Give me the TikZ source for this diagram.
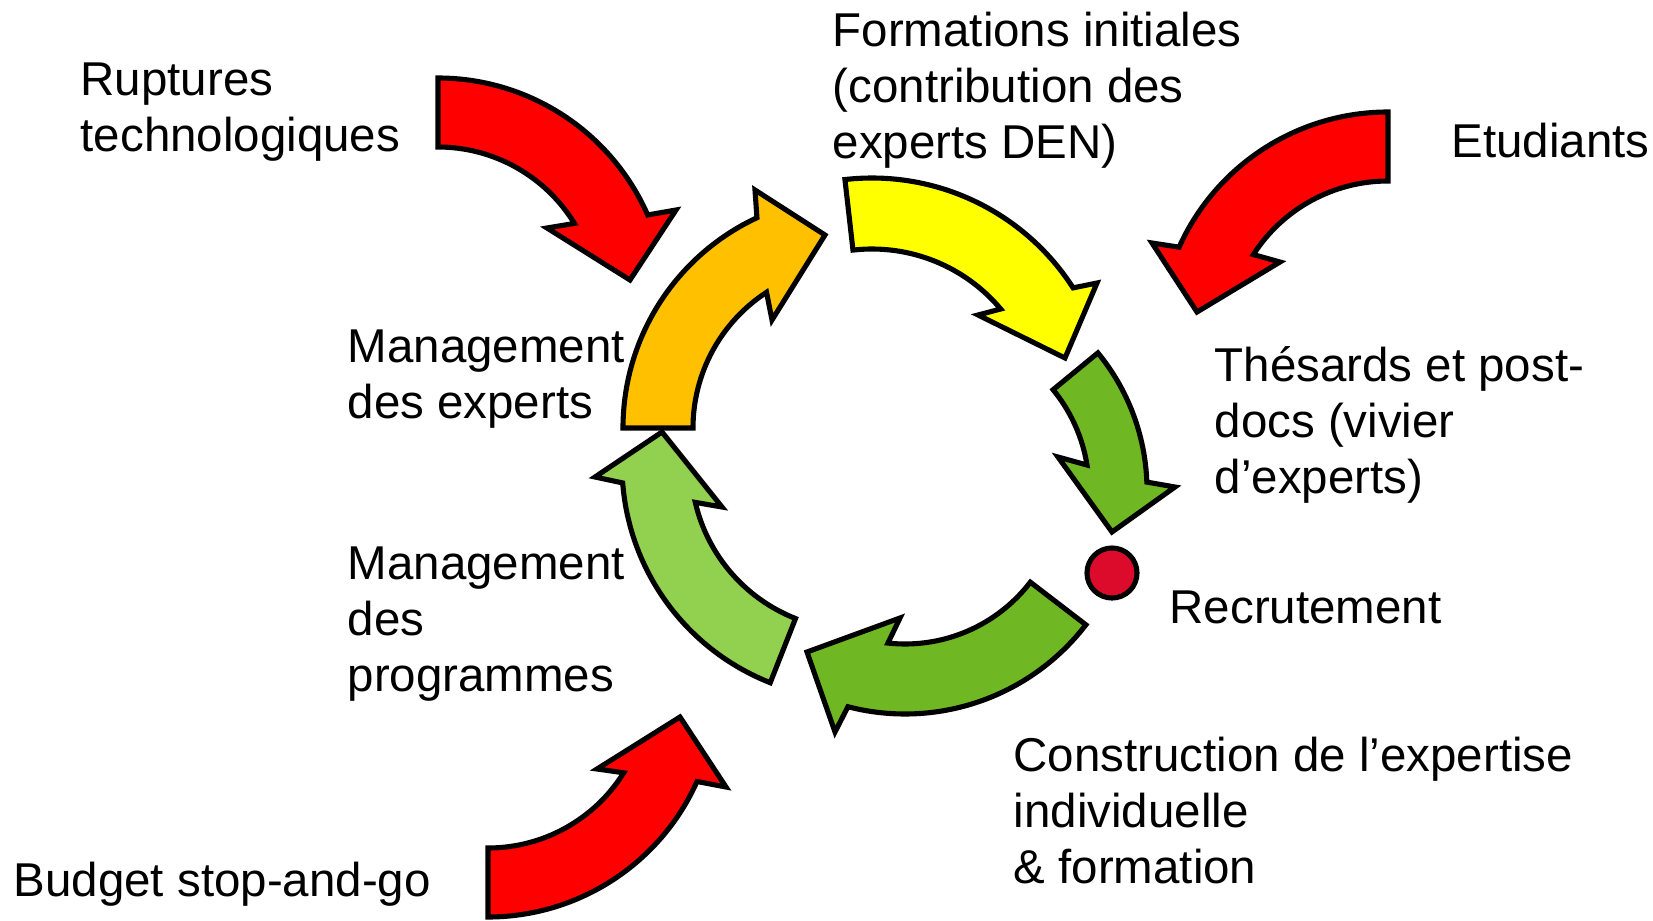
\documentclass[tikz,border=0pt]{standalone}
\usepackage{fontspec}
\setmainfont{Liberation Sans}
\usetikzlibrary{calc}
\definecolor{cRed}{HTML}{FF0000}
\definecolor{cOrange}{HTML}{FFC000}
\definecolor{cYellow}{HTML}{FFFF00}
\definecolor{cGreen}{HTML}{6FB823}
\definecolor{cLight}{HTML}{92D050}
\definecolor{cDot}{HTML}{DC0A2B}
\begin{document}
\begin{tikzpicture}[x=0.01cm,y=-0.01cm,
  bigarrow/.style={draw=black, line width=1.45pt, line join=miter, miter limit=10},
  lbl/.style={anchor=north west, inner sep=0pt, align=left, font=\fontsize{13.5}{15.94}\selectfont}]
\useasboundingbox[fill=white] (0,0) rectangle (1653,921);

% centres of the curved arrows
\coordinate (C1) at (438,307);
\coordinate (C2) at (855,428);
\coordinate (C3) at (872,417);
\coordinate (C4) at (931,490);
\coordinate (C5) at (905,486);
\coordinate (C6) at (856,465);
\coordinate (C7) at (488,688);
\coordinate (C8) at (1388,341);

% Ruptures technologiques (red)
\path[bigarrow, fill=cRed] ($(C1)+(-90:229)$) arc[start angle=-90, end angle=-23.7, radius=229]
  -- (676,210) -- (630,280) -- (547,228) -- ($(C1)+(-31.5:160)$)
  arc[start angle=-31.5, end angle=-90, radius=160] -- cycle;

% Management des experts (orange)
\path[bigarrow, fill=cOrange] ($(C2)+(180:232)$) arc[start angle=180, end angle=245, radius=232]
  -- (755,190) -- (825,235) -- (772,320) -- ($(C2)+(236.9:162)$)
  arc[start angle=236.9, end angle=180, radius=162] -- cycle;

% Formations initiales (yellow)
\path[bigarrow, fill=cYellow] ($(C3)+(-96.5:239)$) arc[start angle=-96.5, end angle=-32.7, radius=239]
  -- (1097,283) -- (1065,358) -- (978,315) -- ($(C3)+(-40:168)$)
  arc[start angle=-40, end angle=-96.5, radius=168] -- cycle;

% Thesards (green)
\path[bigarrow, fill=cGreen] ($(C4)+(-39.4:216)$) arc[start angle=-39.4, end angle=-2.1, radius=216]
  -- (1175,487) -- (1112,532) -- (1058,457) -- ($(C4)+(-9.1:158)$)
  arc[start angle=-9.1, end angle=-39.4, radius=158] -- cycle;

% Construction de l'expertise (green)
\path[bigarrow, fill=cGreen] ($(C5)+(37.5:228)$) arc[start angle=37.5, end angle=104.5, radius=228]
  -- (835,732) -- (807,652) -- (900,618) -- ($(C5)+(96.2:158)$)
  arc[start angle=96.2, end angle=37.5, radius=158] -- cycle;

% Management des programmes (light green)
\path[bigarrow, fill=cLight] ($(C6)+(111.5:234)$) arc[start angle=111.5, end angle=175.6, radius=234]
  -- (595,477) -- (662,432) -- (722,507) -- ($(C6)+(166.9:165)$)
  arc[start angle=166.9, end angle=111.5, radius=165] -- cycle;

% Budget stop-and-go (red)
\path[bigarrow, fill=cRed] ($(C7)+(90:229)$) arc[start angle=90, end angle=24.1, radius=229]
  -- (726,787) -- (680,717) -- (597,769) -- ($(C7)+(32:160)$)
  arc[start angle=32, end angle=90, radius=160] -- cycle;

% Etudiants (red)
\path[bigarrow, fill=cRed] ($(C8)+(270:229)$) arc[start angle=270, end angle=204.2, radius=229]
  -- (1152,243) -- (1197,312) -- (1280,262) -- ($(C8)+(212.7:160)$)
  arc[start angle=212.7, end angle=270, radius=160] -- cycle;

% Recrutement dot
\node (dot) [circle, draw=black, line width=1.45pt, fill=cDot, minimum size=0.5cm, inner sep=0pt] at (1112,573) {};

% labels
\node (rupt) [lbl] at (80,62) {Ruptures\\technologiques};
\node (form) [lbl] at (832,11) {Formations initiales\\(contribution des\\experts DEN)};
\node (etud) [lbl] at (1451,122) {Etudiants};
\node (thes) [lbl] at (1214,346) {Thésards et post-\\docs (vivier\\d’experts)};
\node (recr) [lbl] at (1169,590) {Recrutement};
\node (cons) [lbl] at (1013,736) {Construction de l’expertise\\individuelle\\\& formation};
\node (budg) [lbl] at (13,861) {Budget stop-and-go};
\node (mexp) [lbl] at (347,329) {Management\\des experts};
\node (mprog) [lbl] at (347,546) {Management\\des\\programmes};
\end{tikzpicture}
\end{document}
